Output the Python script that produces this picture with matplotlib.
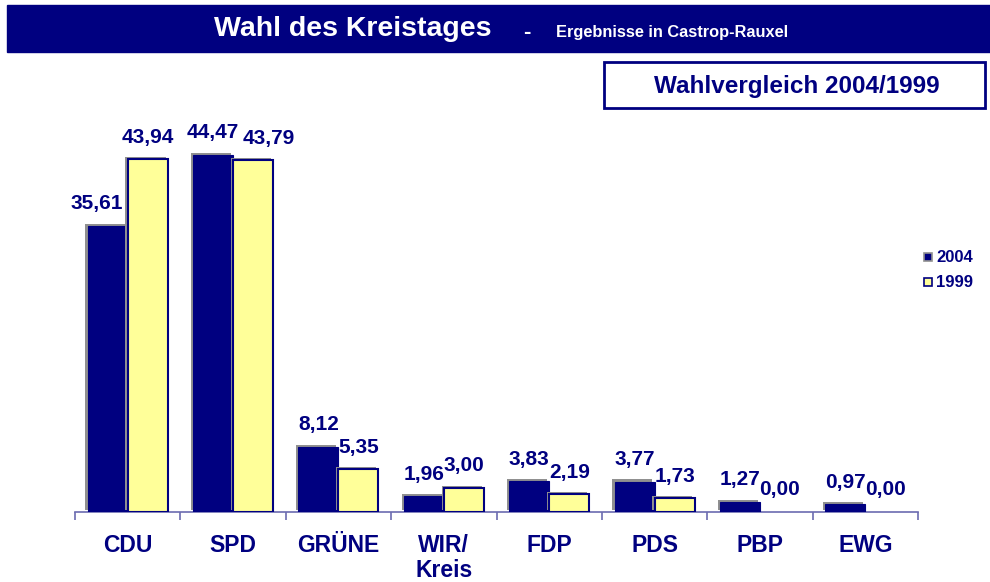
import matplotlib
matplotlib.use("Agg")
import matplotlib.pyplot as plt
import matplotlib.patheffects as pe
from matplotlib.patches import Rectangle
import numpy as np

plt.rcParams['font.family'] = ['Liberation Sans', 'DejaVu Sans']

categories = ["CDU", "SPD", "GRÜNE", "WIR/\nKreis", "FDP", "PDS", "PBP", "EWG"]
values_2004 = [35.61, 44.47, 8.12, 1.96, 3.83, 3.77, 1.27, 0.97]
values_1999 = [43.94, 43.79, 5.35, 3.00, 2.19, 1.73, 0.00, 0.00]
series_names = ["2004", "1999"]

NAVY = "#000080"
YELLOW = "#FFFF99"
AXIS = "#6b6bb0"

fig = plt.figure(figsize=(9.9, 5.82), dpi=100)

# Banner
fig.patches.append(Rectangle((7/990, 1 - 52/582), 1 - 7/990, 47/582,
                             transform=fig.transFigure, facecolor=NAVY,
                             edgecolor=NAVY, zorder=0))
fig.text(353/990, 1 - 29/582, "Wahl des Kreistages", color="white",
         fontsize=20.5, fontweight="bold", ha="center", va="center")
fig.text(527/990, 1 - 32/582, "-", color="white",
         fontsize=16, fontweight="bold", ha="center", va="center")
fig.text(672/990, 1 - 32/582, "Ergebnisse in Castrop-Rauxel", color="white",
         fontsize=11.8, fontweight="bold", ha="center", va="center")

# Sub box
fig.patches.append(Rectangle((604/990, 1 - 108/582), 381/990, 46/582,
                             transform=fig.transFigure, facecolor="white",
                             edgecolor=NAVY, linewidth=2, zorder=0))
fig.text(797/990, 1 - 86/582, "Wahlvergleich 2004/1999", color=NAVY,
         fontsize=17.5, fontweight="bold", ha="center", va="center")

ax = fig.add_axes([75/990, 70/582, 843/990, 392/582])
n = len(categories)
x = np.arange(n)
w = 0.38
shadow = [pe.SimplePatchShadow(offset=(-1.6, 1.6), shadow_rgbFace="#909090", alpha=1.0), pe.Normal()]

b1 = ax.bar(x - w/2, values_2004, width=w, color=NAVY, edgecolor=NAVY,
            linewidth=0.8, zorder=3)
b2 = ax.bar(x + w/2, values_1999, width=w, color=YELLOW, edgecolor=NAVY,
            linewidth=1.5, zorder=3)
for b in list(b1) + list(b2):
    if b.get_height() == 0:
        b.set_visible(False)
    else:
        b.set_path_effects(shadow)

ax.set_xlim(-0.5, n - 0.5)
ax.set_ylim(0, 48.8)

label_dx_2004 = [-8, 0, 0, 0, 0, 0, 0, 0]
label_dx_1999 = [0, 11, 0, 0, 0, 0, 0, 0]

def fmt(v):
    return f"{v:.2f}".replace(".", ",")

for i in range(n):
    ax.annotate(fmt(values_2004[i]), (x[i] - w/2, values_2004[i]),
                xytext=(label_dx_2004[i], 9), textcoords="offset points",
                ha="center", va="bottom", color=NAVY, fontsize=15,
                fontweight="bold", zorder=5)
    ax.annotate(fmt(values_1999[i]), (x[i] + w/2, values_1999[i]),
                xytext=(label_dx_1999[i], 9), textcoords="offset points",
                ha="center", va="bottom", color=NAVY, fontsize=15,
                fontweight="bold", zorder=5)

for s in ["top", "right", "left"]:
    ax.spines[s].set_visible(False)
ax.spines["bottom"].set_color(AXIS)
ax.spines["bottom"].set_linewidth(1.2)
ax.set_yticks([])
ax.set_xticks(x)
ax.set_xticklabels(categories, color=NAVY, fontsize=16.5, fontweight="bold",
                   linespacing=1.08)
ax.tick_params(axis="x", which="major", length=0, pad=16)
ax.set_xticks(np.arange(-0.5, n, 1.0), minor=True)
ax.tick_params(axis="x", which="minor", length=6, width=1.2, color=AXIS,
               direction="out")
for lab in ax.get_xticklabels():
    lab.set_va("top")

# Legend
fig.patches.append(Rectangle((924/990, 1 - 261/582), 8/990, 8/582,
                             transform=fig.transFigure, facecolor=NAVY,
                             edgecolor="#909090", linewidth=1.2))
fig.patches.append(Rectangle((924/990, 1 - 286/582), 8/990, 8/582,
                             transform=fig.transFigure, facecolor=YELLOW,
                             edgecolor=NAVY, linewidth=1.2))
fig.text(936/990, 1 - 257/582, series_names[0], color=NAVY, fontsize=12,
         fontweight="bold", ha="left", va="center")
fig.text(936/990, 1 - 282/582, series_names[1], color=NAVY, fontsize=12,
         fontweight="bold", ha="left", va="center")

fig.savefig("out.png", dpi=100)
